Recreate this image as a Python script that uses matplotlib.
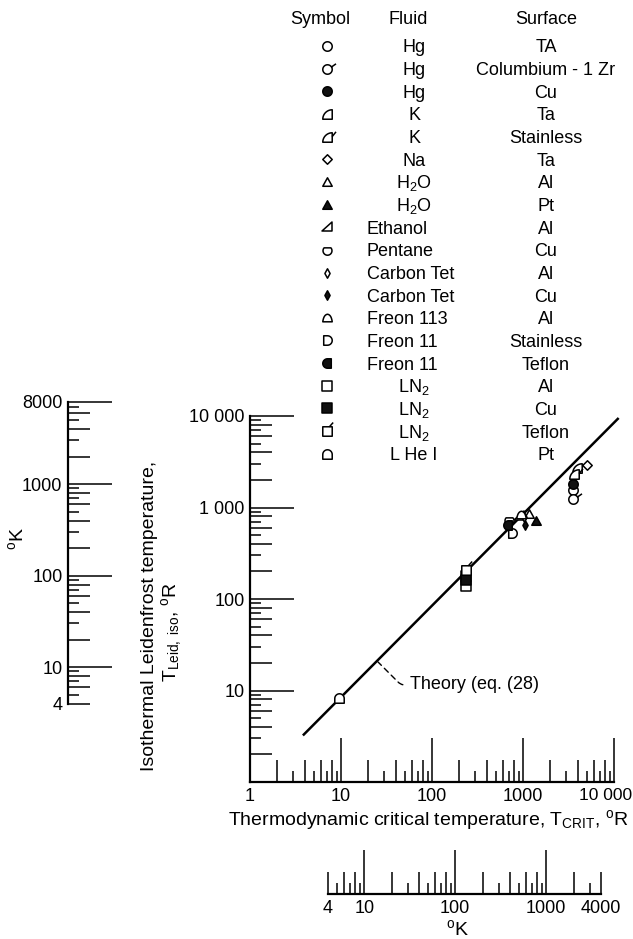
import numpy as np
import matplotlib
matplotlib.use('Agg')
import matplotlib.pyplot as plt
from matplotlib.path import Path

plt.rcParams['font.family'] = ['Liberation Sans Narrow', 'Liberation Sans', 'DejaVu Sans']
plt.rcParams['mathtext.fontset'] = 'custom'
plt.rcParams['mathtext.rm'] = 'Liberation Sans'
plt.rcParams['mathtext.it'] = 'Liberation Sans:italic'
plt.rcParams['mathtext.bf'] = 'Liberation Sans:bold'

########################################
# Data, degrees Rankine
########################################

fluids = ['Hg', 'Hg', 'Hg', 'K', 'K', 'Na', 'H$_2$O', 'H$_2$O', 'Ethanol', 'Pentane',
          'Carbon Tet', 'Carbon Tet', 'Freon 113', 'Freon 11', 'Freon 11',
          'LN$_2$', 'LN$_2$', 'LN$_2$', 'L He I']
surfaces = ['TA', 'Columbium - 1 Zr', 'Cu', 'Ta', 'Stainless', 'Ta', 'Al', 'Pt', 'Al', 'Cu',
            'Al', 'Cu', 'Al', 'Stainless', 'Teflon', 'Al', 'Cu', 'Teflon', 'Pt']
t_crit = [[3500], [3500], [3500], [3900], [3600], [5000], [1175], [1400], [900], [710],
          [1030], [1050], [950], [750], [690], [236], [236, 236], [236], [9.4]]
t_leid = [[1550], [1230], [1790], [2700], [2350], [2900], [840], [710], [810], [730],
          [790], [650], [830], [530], [650], [140], [178, 163], [205], [8.3]]

theory_x = [3.9, 11000]
theory_y = [3.3, 9300]

R_PER_K = 1.8

########################################
# Marker shapes
########################################

def arc(cx, cy, r, t1, t2, n=16):
    t = np.radians(np.linspace(t1, t2, n))
    return list(zip(cx + r * np.cos(t), cy + r * np.sin(t)))

def bez(p0, c, p1, n=10):
    t = np.linspace(0, 1, n)[:, None]
    p0, c, p1 = np.array(p0), np.array(c), np.array(p1)
    return [tuple(p) for p in (1 - t) ** 2 * p0 + 2 * (1 - t) * t * c + t ** 2 * p1]

def shape(pts, flag=None):
    verts = list(pts) + [pts[0]]
    codes = [Path.MOVETO] + [Path.LINETO] * (len(pts) - 1) + [Path.CLOSEPOLY]
    if flag:
        verts += list(flag)
        codes += [Path.MOVETO, Path.LINETO]
    return Path(verts, codes)

circle = arc(0, 0, 1, 90, 450, 33)[:-1]
quarter = [(1, -1), (1, 1)] + arc(1, -1, 2, 90, 180, 12)[1:-1] + [(-1, -1)]
square = [(-1, -1), (1, -1), (1, 1), (-1, 1)]
dee = [(-0.8, 1), (0, 1)] + arc(0, 0, 1, 90, -90, 15)[1:-1] + [(0, -1), (-0.8, -1)]
dome = [(-1, -0.7), (1, -0.7)] + bez((1, -0.7), (0.8, 0.8), (0, 0.9))[1:] + bez((0, 0.9), (-0.8, 0.8), (-1, -0.7))[1:-1]

MARKERS = {
    'circle': shape(circle),
    'circle_flag': shape(circle, ((0.8, 0.5), (1.8, 1.2))),
    'quarter': shape(quarter),
    'quarter_flag': shape(quarter, ((1, 0.2), (1.8, 1.2))),
    'diamond': shape([(0, 1), (1, 0), (0, -1), (-1, 0)]),
    'thin_diamond': shape([(0, 1), (0.55, 0), (0, -1), (-0.55, 0)]),
    'triangle': shape([(0, 1), (1, -0.8), (-1, -0.8)]),
    'right_tri': shape([(-1, -0.8), (1, -0.8), (1, 1)]),
    'pentane': shape(arc(0, -0.05, 0.95, 140, 400, 24)),
    'dome': shape(dome),
    'dee': shape(dee),
    'dee_left': shape([(-x, y) for x, y in dee]),
    'square': shape(square),
    'square_flag': shape(square, ((0.4, 1), (1.2, 1.9))),
    'tomb': shape([(-1, -1), (1, -1), (1, 0)] + arc(0, 0, 1, 0, 180, 15)[1:-1] + [(-1, 0)]),
}

symbols = [('circle', False), ('circle_flag', False), ('circle', True), ('quarter', False),
           ('quarter_flag', False), ('diamond', False), ('triangle', False), ('triangle', True),
           ('right_tri', False), ('pentane', False), ('thin_diamond', False), ('thin_diamond', True),
           ('dome', False), ('dee', False), ('dee_left', True), ('square', False),
           ('square', True), ('square_flag', False), ('tomb', False)]

BASE_MS = 6.8

def marker_kw(name, filled):
    p = MARKERS[name]
    return dict(marker=p, ms=BASE_MS * np.abs(p.vertices).max(), mew=1.1, mec='k',
                mfc='#111111' if filled else 'white', ls='none')

########################################
# Figure layout
########################################

W, H = 633, 939
fig = plt.figure(figsize=(W / 100, H / 100), dpi=100)

# main axes, in pixels: x 250..614, y 416..782 (from top)
L0, B0, W0, H0 = 250 / W, (H - 782) / H, 364 / W, 366 / H
ax = fig.add_axes([L0, B0, W0, H0])
ax.set_xscale('log')
ax.set_yscale('log')
ax.patch.set_visible(False)

TICK_LEN = {'dec': 32, 'even': 16, 'odd': 8}

def tick_sets(lo, hi):
    out = {'dec': [], 'even': [], 'odd': []}
    for e in range(0, 5):
        for m in range(1, 10):
            v = m * 10 ** e
            if lo * 0.999 <= v <= hi * 1.001:
                key = 'dec' if m == 1 else ('even' if m % 2 == 0 else 'odd')
                out[key].append(v)
    return out

def draw_ticks(a, lo, hi, side, long_ends=()):
    sets = tick_sets(lo, hi)
    for key, vals in sets.items():
        for v in vals:
            L = TICK_LEN['dec'] if v in long_ends else TICK_LEN[key]
            if side == 'bottom':
                a.plot([v], [0], marker=2, ms=L, mew=1.1, color='k',
                       transform=a.get_xaxis_transform(), clip_on=False)
            else:
                a.plot([0], [v], marker=1, ms=L, mew=1.1, color='k',
                       transform=a.get_yaxis_transform(), clip_on=False)

for s in ['top', 'right']:
    ax.spines[s].set_visible(False)
for s in ['left', 'bottom']:
    ax.spines[s].set_linewidth(1.6)

draw_ticks(ax, 1, 10000, 'bottom')
draw_ticks(ax, 1, 10000, 'left')

# the 10 000 label on x would run off the page, so it is placed by hand below
ax.set_xticks([1, 10, 100, 1000, 10000], ['1', '10', '100', '1000', ''])
ax.set_yticks([10, 100, 1000, 10000], ['10', '100', '1 000', '10 000'])
ax.set_xticks([], minor=True)
ax.set_yticks([], minor=True)
ax.tick_params(length=0, labelsize=13)
ax.tick_params(axis='x', pad=4)
ax.tick_params(axis='y', pad=4)
fig.text(632 / W, 1 - 795 / H, '10 000', ha='right', va='center', fontsize=12.5)

# theory line and data
ax.plot(theory_x, theory_y, color='k', lw=1.8, clip_on=False, zorder=2)
for i, (name, filled) in enumerate(symbols):
    ax.plot(t_crit[i], t_leid[i], zorder=3, clip_on=False, **marker_kw(name, filled))

ax.annotate('Theory (eq. (28)', xy=(24.9, 21), xytext=(57, 11.5), fontsize=13,
            ha='left', va='center',
            arrowprops=dict(arrowstyle='-', ls=(0, (4, 3)), lw=1.0, color='k',
                            connectionstyle='angle,angleA=0,angleB=-45,rad=4',
                            shrinkA=3, shrinkB=1))

ax.set_xlim(1, 10000)
ax.set_ylim(1, 10000)

fig.text(428 / W, 1 - 820 / H, 'Thermodynamic critical temperature, T$_{\\rm CRIT}$, $^{\\rm o}$R',
         ha='center', va='center', fontsize=14)
fig.text(150 / W, 1 - 616 / H, 'Isothermal Leidenfrost temperature,', rotation=90,
         ha='center', va='center', fontsize=14)
fig.text(172 / W, 1 - 632 / H, 'T$_{\\rm Leid,\\ iso}$, $^{\\rm o}$R', rotation=90,
         ha='center', va='center', fontsize=14)

# Kelvin scales, aligned with the Rankine axes
def frac_y(k):
    return B0 + H0 * np.log10(R_PER_K * k) / 4

def frac_x(k):
    return L0 + W0 * np.log10(R_PER_K * k) / 4

axk = fig.add_axes([68 / W, frac_y(4), 0.1, frac_y(8000) - frac_y(4)])
axk.set_yscale('log')
axk.set_ylim(4, 8000)
axk.patch.set_visible(False)
for s in ['top', 'right', 'bottom']:
    axk.spines[s].set_visible(False)
axk.spines['left'].set_linewidth(1.6)
axk.set_xticks([])
draw_ticks(axk, 4, 8000, 'left', long_ends=(8000,))
axk.set_yticks([4, 10, 100, 1000, 8000], ['4', '10', '100', '1000', '8000'])
axk.set_yticks([], minor=True)
axk.tick_params(length=0, labelsize=13, pad=4)
fig.text(17 / W, 1 - 538 / H, '$^{\\rm o}$K', rotation=90, ha='center', va='center', fontsize=14)

axb = fig.add_axes([frac_x(4), 45 / H, frac_x(4000) - frac_x(4), 0.05])
axb.set_xscale('log')
axb.set_xlim(4, 4000)
axb.patch.set_visible(False)
for s in ['top', 'right', 'left']:
    axb.spines[s].set_visible(False)
axb.spines['bottom'].set_linewidth(1.6)
axb.set_yticks([])
draw_ticks(axb, 4, 4000, 'bottom')
axb.set_xticks([4, 10, 100, 1000, 4000], ['4', '10', '100', '1000', '4000'])
axb.set_xticks([], minor=True)
axb.tick_params(length=0, labelsize=13, pad=4)
fig.text(458 / W, 1 - 929 / H, '$^{\\rm o}$K', ha='center', va='center', fontsize=14)

########################################
# Symbol / Fluid / Surface key
########################################

lg = fig.add_axes([0, 0, 1, 1])
lg.set_xlim(0, W)
lg.set_ylim(H, 0)
lg.axis('off')

ROW0, DY = 46, 22.65
lg.text(320, 24, 'Symbol', ha='center', va='baseline', fontsize=13)
lg.text(408, 24, 'Fluid', ha='center', va='baseline', fontsize=13)
lg.text(546, 24, 'Surface', ha='center', va='baseline', fontsize=13)
for i, (f, s) in enumerate(zip(fluids, surfaces)):
    y = ROW0 + i * DY
    lg.plot([327], [y], **marker_kw(*symbols[i]))
    if 8 <= i <= 14:
        lg.text(367, y + 6.5, f, ha='left', va='baseline', fontsize=13)
    else:
        lg.text(414, y + 6.5, f, ha='center', va='baseline', fontsize=13)
    lg.text(546, y + 6.5, s, ha='center', va='baseline', fontsize=13)

fig.savefig('out.png', dpi=100)
